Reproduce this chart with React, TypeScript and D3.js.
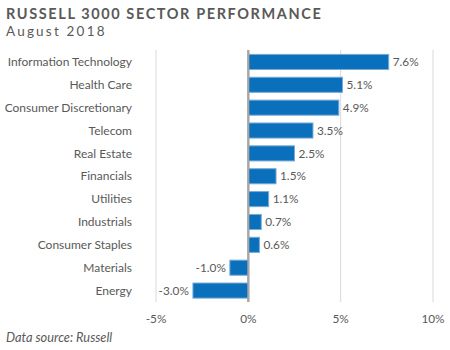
import React from 'react';
import * as d3 from 'd3';

const sectors = [
  'Information Technology',
  'Health Care',
  'Consumer Discretionary',
  'Telecom',
  'Real Estate',
  'Financials',
  'Utilities',
  'Industrials',
  'Consumer Staples',
  'Materials',
  'Energy',
];
const returns = [7.6, 5.1, 4.9, 3.5, 2.5, 1.5, 1.1, 0.7, 0.6, -1.0, -3.0];
const ticks = [-5, 0, 5, 10];

const font = 'Lato, "Open Sans", sans-serif';
const textColor = '#595959';

export default function App() {
  const width = 450;
  const height = 350;

  const x = d3.scaleLinear().domain([-5, 10]).range([156, 433]);
  const y = d3.scaleBand<string>().domain(sectors).range([50.5, 302]).paddingInner(0.34).paddingOuter(0.17);

  return (
    <svg
      width={width}
      height={height}
      style={{ position: 'absolute', left: 0, top: 0, background: '#fff' }}
      fontFamily={font}
    >
      <text x={6} y={19} fontSize={14.5} fontWeight="bold" fill={textColor} letterSpacing={1.6}>
        RUSSELL 3000 SECTOR PERFORMANCE
      </text>
      <text x={6} y={36} fontSize={13.5} fill={textColor} letterSpacing={2.2}>
        August 2018
      </text>

      {/* grid */}
      {ticks.map((t) => (
        <line
          key={t}
          x1={x(t)}
          x2={x(t)}
          y1={50}
          y2={302}
          stroke={t === 0 ? '#a6a6a6' : '#d9d9d9'}
          strokeWidth={t === 0 ? 2 : 1}
        />
      ))}

      {/* bars */}
      {sectors.map((s, i) => {
        const v = returns[i];
        const x0 = x(Math.min(0, v));
        const w = Math.abs(x(v) - x(0));
        const yc = (y(s) as number) + y.bandwidth() / 2;
        return (
          <g key={s}>
            <rect
              x={x0}
              y={y(s)}
              width={w}
              height={y.bandwidth()}
              fill="#0a70bb"
              stroke="#7aaad6"
              strokeWidth={1}
            />
            <text
              x={132}
              y={yc}
              dy="0.35em"
              textAnchor="end"
              fontSize={12}
              fill={textColor}
            >
              {s}
            </text>
            <text
              x={v >= 0 ? x(v) + 4 : x(v) - 4}
              y={yc}
              dy="0.35em"
              textAnchor={v >= 0 ? 'start' : 'end'}
              fontSize={11.8}
              fill={textColor}
            >
              {v.toFixed(1)}%
            </text>
          </g>
        );
      })}

      {/* redraw zero line over bars */}
      <line x1={x(0)} x2={x(0)} y1={50} y2={302} stroke="#a6a6a6" strokeWidth={2} />

      {ticks.map((t) => (
        <text key={t} x={x(t)} y={323} textAnchor="middle" fontSize={11.8} fill={textColor}>
          {t}%
        </text>
      ))}

      <text x={6} y={342} fontSize={12.8} fontStyle="italic" fill={textColor}>
        Data source: Russell
      </text>
    </svg>
  );
}
